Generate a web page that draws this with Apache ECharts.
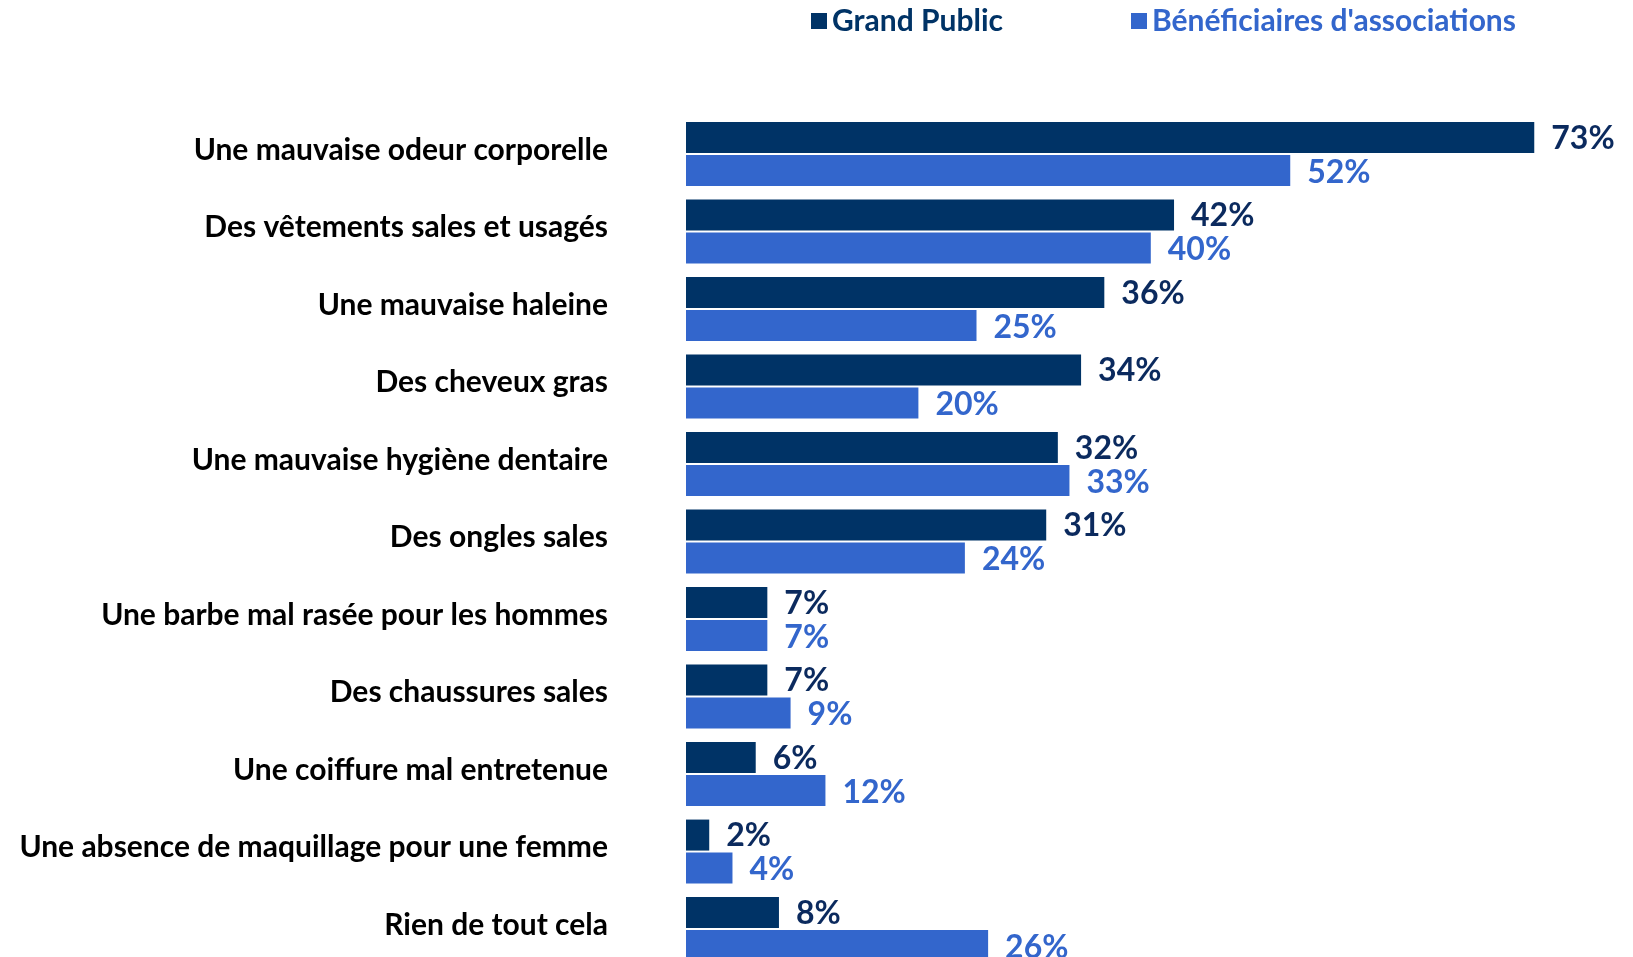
<!DOCTYPE html>
<html><head><meta charset="utf-8">
<script src="https://cdn.jsdelivr.net/npm/echarts@6/dist/echarts.min.js"></script>
<style>html,body{margin:0;padding:0;background:#fff}#c{width:1633px;height:957px}</style>
</head><body><div id="c"></div>
<script>
const categories = [
  "Une mauvaise odeur corporelle",
  "Des vêtements sales et usagés",
  "Une mauvaise haleine",
  "Des cheveux gras",
  "Une mauvaise hygiène dentaire",
  "Des ongles sales",
  "Une barbe mal rasée pour les hommes",
  "Des chaussures sales",
  "Une coiffure mal entretenue",
  "Une absence de maquillage pour une femme",
  "Rien de tout cela"
];
const grandPublic = [73, 42, 36, 34, 32, 31, 7, 7, 6, 2, 8];
const beneficiaires = [52, 40, 25, 20, 33, 24, 7, 9, 12, 4, 26];
const seriesNames = ["Grand Public", "Bénéficiaires d'associations"];

const DARK = "#003366", LIGHT = "#3366CC";
const FONT = "Lato";
const chart = echarts.init(document.getElementById('c'));
chart.setOption({
  animation: false,
  legend: {
    left: 806, top: 1,
    itemWidth: 16, itemHeight: 16, itemGap: 128,
    icon: 'rect',
    data: seriesNames.map((n, i) => ({name: n, textStyle: {color: i ? LIGHT : DARK}})),
    textStyle: {fontFamily: FONT, fontWeight: 'bold', fontSize: 30}
  },
  grid: {left: 686, top: 154, width: 929.6, height: 775, containLabel: false},
  xAxis: {type: 'value', min: 0, max: 80, show: false},
  yAxis: {
    type: 'category', data: categories, inverse: true, boundaryGap: false,
    axisLine: {show: false}, axisTick: {show: false}, splitLine: {show: false},
    axisLabel: {margin: 78, color: '#000', fontFamily: FONT, fontWeight: 'bold', fontSize: 30,
      verticalAlign: 'bottom', lineHeight: 8}
  },
  series: [
    {name: seriesNames[0], type: 'bar', data: grandPublic, barWidth: 31, barGap: '6%',
     itemStyle: {color: DARK},
     label: {show: true, position: 'right', distance: 17, offset: [0, 1], formatter: '{c}%', color: '#0B2A5E',
       fontFamily: FONT, fontWeight: 'bold', fontSize: 32}},
    {name: seriesNames[1], type: 'bar', data: beneficiaires, barWidth: 31,
     itemStyle: {color: LIGHT},
     label: {show: true, position: 'right', distance: 17, offset: [0, 2], formatter: '{c}%', color: LIGHT,
       fontFamily: FONT, fontWeight: 'bold', fontSize: 32}}
  ]
});
</script></body></html>
